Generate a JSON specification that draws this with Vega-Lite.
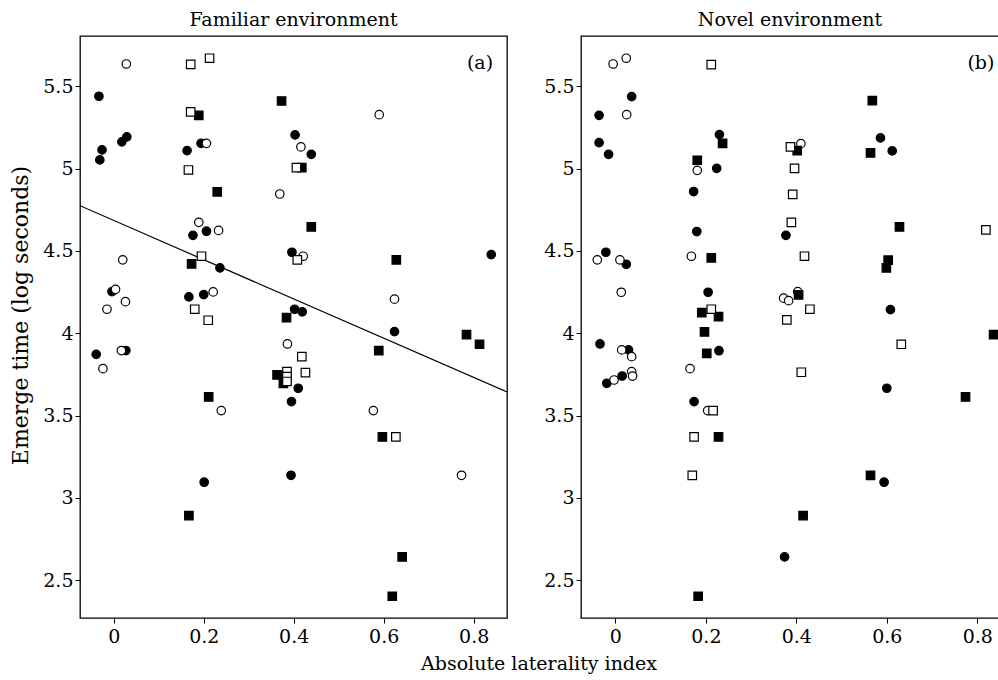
{
  "$schema": "https://vega.github.io/schema/vega-lite/v6.json",
  "background": "white",
  "padding": {"left": 9, "top": 10, "right": 1, "bottom": 5},
  "config": {
    "font": "DejaVu Serif",
    "view": {"stroke": "black", "strokeWidth": 1.3},
    "axis": {
      "domain": false,
      "grid": false,
      "ticks": true,
      "tickColor": "black",
      "tickSize": 5,
      "tickWidth": 1,
      "labelColor": "black",
      "labelFont": "DejaVu Serif",
      "labelFontSize": 19,
      "titleFont": "DejaVu Serif",
      "titleFontSize": 19,
      "titleFontWeight": "normal",
      "titleColor": "black",
      "labelFlush": false
    },
    "title": {"font": "DejaVu Serif", "fontSize": 19, "fontWeight": "normal", "color": "black"}
  },
  "title": {"text": "Absolute laterality index", "orient": "bottom", "anchor": "middle", "offset": 8, "dx": 34},
  "datasets": {
    "familiar": [
      {"g": "A", "x": -0.033, "y": 5.44}, {"g": "A", "x": -0.026, "y": 5.114}, {"g": "A", "x": -0.031, "y": 5.053},
      {"g": "A", "x": 0.018, "y": 5.163}, {"g": "A", "x": 0.029, "y": 5.193}, {"g": "A", "x": -0.004, "y": 4.253},
      {"g": "A", "x": -0.039, "y": 3.872}, {"g": "A", "x": 0.027, "y": 3.895}, {"g": "A", "x": 0.163, "y": 5.11},
      {"g": "A", "x": 0.194, "y": 5.154}, {"g": "A", "x": 0.176, "y": 4.595}, {"g": "A", "x": 0.206, "y": 4.62},
      {"g": "A", "x": 0.236, "y": 4.397}, {"g": "A", "x": 0.167, "y": 4.221}, {"g": "A", "x": 0.2, "y": 4.235},
      {"g": "A", "x": 0.403, "y": 5.205}, {"g": "A", "x": 0.439, "y": 5.087}, {"g": "A", "x": 0.396, "y": 4.492},
      {"g": "A", "x": 0.402, "y": 4.146}, {"g": "A", "x": 0.419, "y": 4.13}, {"g": "A", "x": 0.624, "y": 4.01},
      {"g": "A", "x": 0.839, "y": 4.478}, {"g": "A", "x": 0.41, "y": 3.666}, {"g": "A", "x": 0.395, "y": 3.585},
      {"g": "A", "x": 0.394, "y": 3.137}, {"g": "A", "x": 0.201, "y": 3.095},
      {"g": "B", "x": 0.028, "y": 5.636}, {"g": "B", "x": 0.02, "y": 4.446}, {"g": "B", "x": 0.004, "y": 4.267},
      {"g": "B", "x": -0.015, "y": 4.146}, {"g": "B", "x": 0.026, "y": 4.192}, {"g": "B", "x": 0.206, "y": 5.154},
      {"g": "B", "x": 0.189, "y": 4.674}, {"g": "B", "x": 0.233, "y": 4.625}, {"g": "B", "x": 0.221, "y": 4.251},
      {"g": "B", "x": 0.369, "y": 4.846}, {"g": "B", "x": 0.416, "y": 5.132}, {"g": "B", "x": 0.421, "y": 4.468},
      {"g": "B", "x": 0.59, "y": 5.328}, {"g": "B", "x": 0.624, "y": 4.207}, {"g": "B", "x": 0.017, "y": 3.895},
      {"g": "B", "x": -0.024, "y": 3.785}, {"g": "B", "x": 0.386, "y": 3.935}, {"g": "B", "x": 0.239, "y": 3.53},
      {"g": "B", "x": 0.577, "y": 3.53}, {"g": "B", "x": 0.773, "y": 3.137},
      {"g": "C", "x": 0.189, "y": 5.324}, {"g": "C", "x": 0.373, "y": 5.411}, {"g": "C", "x": 0.418, "y": 5.006},
      {"g": "C", "x": 0.23, "y": 4.859}, {"g": "C", "x": 0.439, "y": 4.646}, {"g": "C", "x": 0.173, "y": 4.421},
      {"g": "C", "x": 0.628, "y": 4.446}, {"g": "C", "x": 0.384, "y": 4.095}, {"g": "C", "x": 0.784, "y": 3.992},
      {"g": "C", "x": 0.813, "y": 3.933}, {"g": "C", "x": 0.589, "y": 3.895}, {"g": "C", "x": 0.363, "y": 3.747},
      {"g": "C", "x": 0.377, "y": 3.696}, {"g": "C", "x": 0.211, "y": 3.613}, {"g": "C", "x": 0.597, "y": 3.37},
      {"g": "C", "x": 0.167, "y": 2.892}, {"g": "C", "x": 0.641, "y": 2.641}, {"g": "C", "x": 0.619, "y": 2.402},
      {"g": "D", "x": 0.171, "y": 5.634}, {"g": "D", "x": 0.213, "y": 5.671}, {"g": "D", "x": 0.171, "y": 5.345},
      {"g": "D", "x": 0.166, "y": 4.992}, {"g": "D", "x": 0.406, "y": 5.006}, {"g": "D", "x": 0.195, "y": 4.468},
      {"g": "D", "x": 0.408, "y": 4.446}, {"g": "D", "x": 0.18, "y": 4.146}, {"g": "D", "x": 0.21, "y": 4.079},
      {"g": "D", "x": 0.418, "y": 3.858}, {"g": "D", "x": 0.426, "y": 3.761}, {"g": "D", "x": 0.385, "y": 3.767},
      {"g": "D", "x": 0.385, "y": 3.737}, {"g": "D", "x": 0.385, "y": 3.707}, {"g": "D", "x": 0.627, "y": 3.37}
    ],
    "novel": [
      {"g": "A", "x": -0.036, "y": 5.324}, {"g": "A", "x": -0.036, "y": 5.158}, {"g": "A", "x": -0.015, "y": 5.087},
      {"g": "A", "x": 0.036, "y": 5.438}, {"g": "A", "x": -0.021, "y": 4.492}, {"g": "A", "x": 0.024, "y": 4.419},
      {"g": "A", "x": 0.23, "y": 5.207}, {"g": "A", "x": 0.224, "y": 5.002}, {"g": "A", "x": 0.173, "y": 4.861},
      {"g": "A", "x": 0.18, "y": 4.618}, {"g": "A", "x": 0.205, "y": 4.249}, {"g": "A", "x": 0.377, "y": 4.595},
      {"g": "A", "x": 0.586, "y": 5.187}, {"g": "A", "x": 0.612, "y": 5.108}, {"g": "A", "x": 0.608, "y": 4.144},
      {"g": "A", "x": -0.034, "y": 3.935}, {"g": "A", "x": 0.029, "y": 3.899}, {"g": "A", "x": -0.019, "y": 3.696},
      {"g": "A", "x": 0.015, "y": 3.74}, {"g": "A", "x": 0.229, "y": 3.894}, {"g": "A", "x": 0.174, "y": 3.585},
      {"g": "A", "x": 0.374, "y": 2.641}, {"g": "A", "x": 0.6, "y": 3.666}, {"g": "A", "x": 0.594, "y": 3.095},
      {"g": "B", "x": -0.005, "y": 5.636}, {"g": "B", "x": 0.024, "y": 5.671}, {"g": "B", "x": 0.025, "y": 5.328},
      {"g": "B", "x": -0.04, "y": 4.446}, {"g": "B", "x": 0.01, "y": 4.446}, {"g": "B", "x": 0.013, "y": 4.249},
      {"g": "B", "x": 0.181, "y": 4.99}, {"g": "B", "x": 0.168, "y": 4.468}, {"g": "B", "x": 0.41, "y": 5.152},
      {"g": "B", "x": 0.372, "y": 4.213}, {"g": "B", "x": 0.383, "y": 4.198}, {"g": "B", "x": 0.403, "y": 4.253},
      {"g": "B", "x": 0.014, "y": 3.899}, {"g": "B", "x": 0.036, "y": 3.858}, {"g": "B", "x": -0.003, "y": 3.716},
      {"g": "B", "x": 0.036, "y": 3.767}, {"g": "B", "x": 0.038, "y": 3.74}, {"g": "B", "x": 0.165, "y": 3.785},
      {"g": "B", "x": 0.204, "y": 3.53},
      {"g": "C", "x": 0.181, "y": 5.051}, {"g": "C", "x": 0.237, "y": 5.154}, {"g": "C", "x": 0.402, "y": 5.11},
      {"g": "C", "x": 0.212, "y": 4.458}, {"g": "C", "x": 0.191, "y": 4.125}, {"g": "C", "x": 0.228, "y": 4.101},
      {"g": "C", "x": 0.568, "y": 5.413}, {"g": "C", "x": 0.564, "y": 5.096}, {"g": "C", "x": 0.628, "y": 4.646},
      {"g": "C", "x": 0.603, "y": 4.444}, {"g": "C", "x": 0.599, "y": 4.397}, {"g": "C", "x": 0.836, "y": 3.992},
      {"g": "C", "x": 0.197, "y": 4.008}, {"g": "C", "x": 0.202, "y": 3.878}, {"g": "C", "x": 0.228, "y": 3.37},
      {"g": "C", "x": 0.183, "y": 2.402}, {"g": "C", "x": 0.415, "y": 2.892}, {"g": "C", "x": 0.564, "y": 3.137},
      {"g": "C", "x": 0.774, "y": 3.613}, {"g": "C", "x": 0.405, "y": 4.233},
      {"g": "D", "x": 0.212, "y": 5.632}, {"g": "D", "x": 0.387, "y": 5.132}, {"g": "D", "x": 0.396, "y": 5.002},
      {"g": "D", "x": 0.392, "y": 4.844}, {"g": "D", "x": 0.389, "y": 4.674}, {"g": "D", "x": 0.418, "y": 4.468},
      {"g": "D", "x": 0.212, "y": 4.146}, {"g": "D", "x": 0.819, "y": 4.628}, {"g": "D", "x": 0.379, "y": 4.081},
      {"g": "D", "x": 0.43, "y": 4.146}, {"g": "D", "x": 0.411, "y": 3.763}, {"g": "D", "x": 0.632, "y": 3.933},
      {"g": "D", "x": 0.216, "y": 3.53}, {"g": "D", "x": 0.174, "y": 3.37}, {"g": "D", "x": 0.17, "y": 3.137}
    ],
    "fit": [
      {"x": -0.075, "y": 4.775},
      {"x": 0.874, "y": 3.643}
    ]
  },
  "spacing": 74,
  "bounds": "flush",
  "hconcat": [
    {
      "width": 427,
      "height": 582,
      "title": {"text": "Familiar environment", "offset": 6},
      "layer": [
        {
          "data": {"name": "fit"},
          "mark": {"type": "line", "color": "black", "strokeWidth": 1.2, "clip": true},
          "encoding": {
            "x": {"field": "x", "type": "quantitative", "scale": {"domain": [-0.075, 0.874], "nice": false, "zero": false},
                  "axis": {"title": null, "values": [0, 0.2, 0.4, 0.6, 0.8], "format": "~g", "labelPadding": 4}},
            "y": {"field": "y", "type": "quantitative", "scale": {"domain": [2.27, 5.806], "nice": false, "zero": false},
                  "axis": {"title": "Emerge time (log seconds)", "titleFontSize": 22, "titleY": 279, "titlePadding": 10, "values": [2.5, 3, 3.5, 4, 4.5, 5, 5.5], "format": "~g", "labelPadding": 2}}
          }
        },
        {
          "data": {"name": "familiar"},
          "mark": {"type": "point", "filled": true, "size": 72, "stroke": "black", "strokeWidth": 1.2, "opacity": 1},
          "encoding": {
            "x": {"field": "x", "type": "quantitative"},
            "y": {"field": "y", "type": "quantitative"},
            "shape": {"field": "g", "type": "nominal", "scale": {"domain": ["A", "B", "C", "D"], "range": ["circle", "circle", "square", "square"]}, "legend": null},
            "fill": {"field": "g", "type": "nominal", "scale": {"domain": ["A", "B", "C", "D"], "range": ["black", "white", "black", "white"]}, "legend": null}
          }
        },
        {
          "data": {"values": [{"label": "(a)"}]},
          "mark": {"type": "text", "fontSize": 19, "align": "center", "baseline": "middle", "color": "black"},
          "encoding": {
            "x": {"datum": 0.814, "type": "quantitative"},
            "y": {"datum": 5.64, "type": "quantitative"},
            "text": {"field": "label"}
          }
        }
      ]
    },
    {
      "width": 418,
      "height": 582,
      "title": {"text": "Novel environment", "offset": 6},
      "layer": [
        {
          "data": {"name": "novel"},
          "mark": {"type": "point", "filled": true, "size": 72, "stroke": "black", "strokeWidth": 1.2, "opacity": 1},
          "encoding": {
            "x": {"field": "x", "type": "quantitative", "scale": {"domain": [-0.076, 0.848], "nice": false, "zero": false},
                  "axis": {"title": null, "values": [0, 0.2, 0.4, 0.6, 0.8], "format": "~g", "labelPadding": 4}},
            "y": {"field": "y", "type": "quantitative", "scale": {"domain": [2.27, 5.806], "nice": false, "zero": false},
                  "axis": {"title": null, "values": [2.5, 3, 3.5, 4, 4.5, 5, 5.5], "format": "~g", "labelPadding": 2}},
            "shape": {"field": "g", "type": "nominal", "scale": {"domain": ["A", "B", "C", "D"], "range": ["circle", "circle", "square", "square"]}, "legend": null},
            "fill": {"field": "g", "type": "nominal", "scale": {"domain": ["A", "B", "C", "D"], "range": ["black", "white", "black", "white"]}, "legend": null}
          }
        },
        {
          "data": {"values": [{"label": "(b)"}]},
          "mark": {"type": "text", "fontSize": 19, "align": "center", "baseline": "middle", "color": "black"},
          "encoding": {
            "x": {"datum": 0.808, "type": "quantitative"},
            "y": {"datum": 5.64, "type": "quantitative"},
            "text": {"field": "label"}
          }
        }
      ]
    }
  ]
}
